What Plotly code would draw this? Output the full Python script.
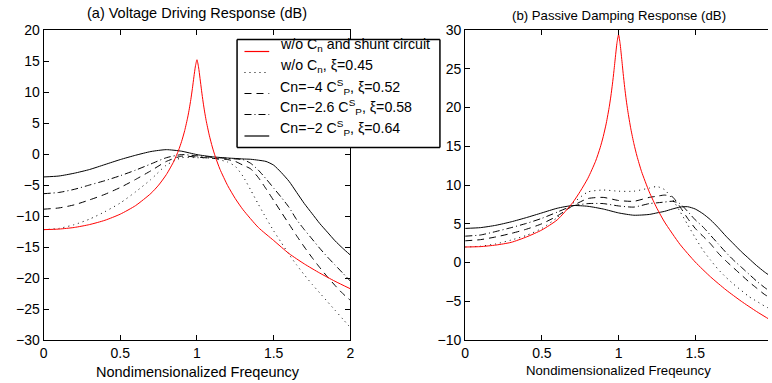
import plotly.graph_objects as go

# ---------------- data ----------------
# black curves sampled at these frequencies
freq = [0, 0.1, 0.2, 0.3, 0.4, 0.5, 0.6, 0.7, 0.8, 0.9, 1.0, 1.1, 1.2, 1.25, 1.3, 1.35,
        1.4, 1.45, 1.5, 1.55, 1.6, 1.65, 1.7, 1.75, 1.8, 1.85, 1.9, 1.95, 2.0]
# red curve sampled more densely near the resonance
freq_red = [0, 0.1, 0.2, 0.3, 0.4, 0.5, 0.6, 0.7, 0.75, 0.8, 0.85, 0.88, 0.9, 0.92, 0.94,
            0.95, 0.96, 0.97, 0.98, 0.99, 1.0, 1.01, 1.02, 1.03, 1.04, 1.05, 1.06, 1.08,
            1.1, 1.12, 1.15, 1.2, 1.25, 1.3, 1.4, 1.5, 1.6, 1.7, 1.8, 1.9, 2.0]

# (a) Voltage driving response (dB)
a_red = [-12.2, -12.11, -11.85, -11.38, -10.69, -9.70, -8.32, -6.35, -5.02, -3.33, -1.14,
         0.61, 2.04, 3.78, 5.97, 7.29, 8.81, 10.54, 12.45, 14.19, 15.2, 14.04, 12.18, 10.20,
         8.38, 6.78, 5.38, 3.04, 1.13, -0.47, -2.47, -5.09, -7.20, -8.98, -11.85, -13.95,
         -16.06, -17.73, -19.20, -20.53, -21.74]
a_nocn = [-12.2, -12.0, -11.4, -10.5, -9.3, -7.9, -6.1, -4.1, -1.8, -0.6, -0.6, -0.7, -1.3,
          -2.0, -3.6, -5.8, -8.1, -10.3, -12.4, -14.3, -16.2, -17.9, -19.5, -21.0, -22.4,
          -23.8, -25.2, -26.6, -28.0]
a_cn4 = [-8.9, -8.7, -8.2, -7.4, -6.5, -5.4, -4.1, -2.7, -1.2, -0.35, -0.5, -0.7, -0.9,
         -1.2, -1.8, -2.4, -3.8, -5.6, -7.5, -9.4, -11.3, -13.2, -15.0, -16.7, -18.3, -19.8,
         -21.2, -22.5, -23.6]
a_cn26 = [-6.4, -6.2, -5.7, -5.0, -4.3, -3.5, -2.6, -1.6, -0.6, -0.1, -0.3, -0.55, -0.7,
          -0.8, -0.9, -1.5, -2.6, -4.0, -5.5, -7.0, -8.6, -10.6, -12.2, -13.7, -15.2, -16.6,
          -17.9, -19.2, -20.5]
a_cn2 = [-3.7, -3.55, -3.1, -2.5, -1.7, -0.9, -0.2, 0.4, 0.7, 0.45, -0.1, -0.45, -0.65,
         -0.72, -0.8, -0.85, -1.0, -1.2, -1.8, -3.0, -4.4, -6.2, -8.0, -9.6, -11.2, -12.6,
         -14.0, -15.2, -16.3]

# (b) Passive damping response (dB)
b_red = [2.0, 2.05, 2.25, 2.6, 3.3, 4.2, 5.5, 7.7, 9.18, 10.87, 13.06, 14.81, 16.24, 17.98,
         20.17, 21.49, 23.01, 24.74, 26.65, 28.39, 29.4, 28.24, 26.38, 24.40, 22.58, 20.98,
         19.58, 17.24, 15.33, 13.73, 11.73, 9.11, 7.0, 5.22, 2.35, 0.06, -1.86, -3.53,
         -5.0, -6.33, -7.54]
b_nocn = [2.0, 2.1, 2.4, 2.9, 3.5, 4.4, 5.8, 7.6, 9.1, 9.35, 9.2, 9.2, 9.6, 9.8, 9.4, 8.2,
          6.6, 4.9, 3.2, 1.6, 0.3, -0.9, -1.9, -2.8, -3.6, -4.4, -5.0, -5.6, -6.1]
b_cn4 = [2.8, 2.95, 3.3, 3.75, 4.3, 5.0, 6.0, 7.3, 8.25, 8.4, 8.0, 7.9, 8.4, 8.55, 8.7, 8.5,
         7.2, 5.7, 4.4, 3.4, 2.4, 1.2, 0.2, -0.7, -1.6, -2.5, -3.3, -4.1, -4.7]
b_cn26 = [3.4, 3.55, 4.0, 4.5, 5.05, 5.7, 6.5, 7.3, 7.6, 7.6, 7.3, 7.15, 7.6, 7.7, 7.8, 7.9,
          7.6, 6.6, 5.5, 4.6, 3.5, 2.4, 1.3, 0.3, -0.6, -1.5, -2.4, -3.2, -3.9]
b_cn2 = [4.4, 4.5, 4.8, 5.25, 5.8, 6.4, 7.0, 7.35, 7.25, 6.9, 6.4, 6.1, 6.2, 6.4, 6.6, 6.9,
         7.15, 7.2, 6.9, 6.3, 5.5, 4.5, 3.4, 2.4, 1.4, 0.5, -0.4, -1.2, -1.9]

legend_names = [
    "w/o C<sub>n</sub> and shunt circuit",
    "w/o C<sub>n</sub>, \u03be=0.45",
    "Cn=\u22124 C<sup>S</sup><sub>P</sub>, \u03be=0.52",
    "Cn=\u22122.6 C<sup>S</sup><sub>P</sub>, \u03be=0.58",
    "Cn=\u22122 C<sup>S</sup><sub>P</sub>, \u03be=0.64",
]

# ---------------- styles ----------------
FONT = "Liberation Sans, Arial, Helvetica, sans-serif"
W, H = 772, 383
ML, MR, MT, MB = 0, 0, 30, 43
PH = H - MT - MB

styles = [
    dict(color="#ff0000", width=1, dash="solid"),
    dict(color="black", width=1, dash="1px,4px"),
    dict(color="black", width=1, dash="7px,5px"),
    dict(color="black", width=1, dash="7px,3px,1px,3px"),
    dict(color="black", width=1, dash="solid"),
]

fig = go.Figure()
series_a = [(freq_red, a_red), (freq, a_nocn), (freq, a_cn4), (freq, a_cn26), (freq, a_cn2)]
series_b = [(freq_red, b_red), (freq, b_nocn), (freq, b_cn4), (freq, b_cn26), (freq, b_cn2)]

# draw order: black curves first, red on top
order = [1, 2, 3, 4, 0]
for i in order:
    x, y = series_a[i]
    fig.add_trace(go.Scatter(x=x, y=y, mode="lines",
                             line=dict(**styles[i], shape="spline", smoothing=0.6),
                             name=legend_names[i], showlegend=False, xaxis="x", yaxis="y"))
for i in order:
    x, y = series_b[i]
    fig.add_trace(go.Scatter(x=x, y=y, mode="lines",
                             line=dict(**styles[i], shape="spline", smoothing=0.6),
                             name=legend_names[i], showlegend=False, xaxis="x2", yaxis="y2"))

def px_x(p):
    return p / W

def py(p):
    return (H - MB - p) / PH

axis_common = dict(showline=True, linecolor="black", linewidth=1, ticks="inside", ticklen=5,
                   tickcolor="black", showgrid=False, zeroline=False,
                   tickfont=dict(family=FONT, size=14, color="black"))

fig.update_layout(
    width=W, height=H,
    margin=dict(l=ML, r=MR, t=MT, b=MB),
    paper_bgcolor="white", plot_bgcolor="white",
    font=dict(family=FONT, size=14, color="black"),
    xaxis=dict(domain=[px_x(40), px_x(350)], range=[0, 2], dtick=0.5, tick0=0,
               mirror="ticks", anchor="y", **axis_common),
    yaxis=dict(domain=[0, 1], range=[-30, 20], dtick=5, tick0=0, mirror="ticks",
               anchor="x", **axis_common),
    xaxis2=dict(domain=[px_x(466), 1.0], range=[0, 306 / 155], dtick=0.5, tick0=0,
                mirror="ticks", anchor="y2", **axis_common),
    yaxis2=dict(domain=[0, 1], range=[-10, 30], dtick=5, tick0=0, mirror=False,
                anchor="x2", **axis_common),
    showlegend=False,
)

# ---------------- legend box (drawn MATLAB style) ----------------
LEG_L, LEG_R, LEG_T, LEG_B = 235.5, 440.5, 39.5, 147.5
fig.add_shape(type="rect", xref="paper", yref="paper",
              x0=px_x(LEG_L), x1=px_x(LEG_R), y0=py(LEG_B), y1=py(LEG_T),
              line=dict(width=0), fillcolor="white", layer="above")
borders = [(LEG_L, LEG_T, LEG_R, LEG_T), (LEG_R, LEG_T, LEG_R, LEG_B),
           (LEG_L, LEG_B, LEG_R, LEG_B), (LEG_L, LEG_T, LEG_L, LEG_B)]
for x0, y0, x1, y1 in borders:
    fig.add_shape(type="line", xref="paper", yref="paper",
                  x0=px_x(x0), x1=px_x(x1), y0=py(y0), y1=py(y1),
                  line=dict(color="black", width=1.5), layer="above")
sample_y = [51.5, 72.5, 93.5, 114.5, 136]
text_y = [45, 65.5, 86.5, 107, 127.5]
for i in range(5):
    st = styles[i]
    fig.add_shape(type="line", xref="paper", yref="paper",
                  x0=px_x(243), x1=px_x(268), y0=py(sample_y[i]), y1=py(sample_y[i]),
                  line=dict(color=st["color"], width=1.2, dash=st["dash"]), layer="above")
    fig.add_annotation(text=legend_names[i], x=px_x(276.5), y=py(text_y[i]),
                       xref="paper", yref="paper", xanchor="left", yanchor="middle",
                       showarrow=False, font=dict(family=FONT, size=14.2, color="black"))

annotations = [
    dict(text="(a) Voltage Driving Response (dB)", x=px_x(195.5), y=py(13), size=14.5),
    dict(text="(b) Passive Damping Response (dB)", x=px_x(621.7), y=py(15), size=13.2),
    dict(text="Nondimensionalized Freqeuncy", x=px_x(195.8), y=py(372), size=14.5),
    dict(text="Nondimensionalized Freqeuncy", x=px_x(621.3), y=py(370), size=13.2),
]
for a in annotations:
    fig.add_annotation(text=a["text"], x=a["x"], y=a["y"], xref="paper", yref="paper",
                       xanchor="center", yanchor="middle", showarrow=False,
                       font=dict(family=FONT, size=a["size"], color="black"))

fig.write_html("out.html", config={"displayModeBar": False},
               post_script="document.body.style.margin='0';document.body.style.padding='0';")
